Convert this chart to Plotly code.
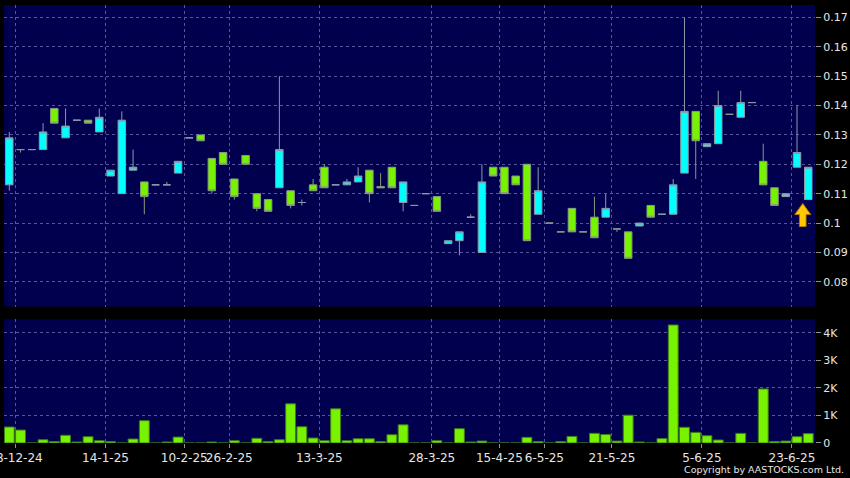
import plotly.graph_objects as go

# ---- data ----
opens = [0.113, 0.125, 0.125, 0.125, 0.139, 0.129, 0.135, 0.135, 0.131, 0.116,
         0.110, 0.118, 0.114, 0.113, 0.113, 0.117, 0.129, 0.130, 0.122, 0.124,
         0.115, 0.123, 0.110, 0.108, 0.112, 0.111, 0.107, 0.113, 0.119, 0.113,
         0.113, 0.114, 0.118, 0.1124, 0.119, 0.107, 0.106, 0.110, 0.109, 0.093,
         0.094, 0.102, 0.090, 0.119, 0.119, 0.116, 0.120, 0.103, 0.100, 0.097,
         0.105, 0.097, 0.102, 0.102, 0.098, 0.097, 0.099, 0.106, 0.103, 0.103,
         0.117, 0.138, 0.126, 0.127, 0.137, 0.136, 0.141, 0.121, 0.112, 0.109,
         0.119, 0.108]
closes = [0.129, 0.125, 0.125, 0.131, 0.134, 0.133, 0.135, 0.134, 0.136, 0.118,
          0.135, 0.119, 0.109, 0.113, 0.113, 0.121, 0.129, 0.128, 0.111, 0.120,
          0.109, 0.120, 0.105, 0.104, 0.125, 0.106, 0.107, 0.111, 0.112, 0.113,
          0.114, 0.116, 0.110, 0.1120, 0.112, 0.114, 0.106, 0.110, 0.104, 0.094,
          0.097, 0.102, 0.114, 0.116, 0.110, 0.113, 0.094, 0.111, 0.100, 0.097,
          0.097, 0.097, 0.095, 0.105, 0.098, 0.088, 0.100, 0.102, 0.103, 0.113,
          0.138, 0.128, 0.127, 0.140, 0.137, 0.141, 0.141, 0.113, 0.106, 0.110,
          0.124, 0.119]
highs = [0.131, 0.125, 0.125, 0.134, 0.139, 0.139, 0.135, 0.135, 0.139, 0.118,
         0.138, 0.125, 0.114, 0.113, 0.114, 0.121, 0.129, 0.130, 0.122, 0.124,
         0.115, 0.123, 0.110, 0.108, 0.150, 0.111, 0.108, 0.115, 0.120, 0.113,
         0.115, 0.119, 0.118, 0.117, 0.119, 0.114, 0.106, 0.110, 0.109, 0.094,
         0.097, 0.103, 0.120, 0.119, 0.119, 0.116, 0.120, 0.119, 0.100, 0.097,
         0.105, 0.097, 0.109, 0.110, 0.098, 0.097, 0.100, 0.106, 0.103, 0.115,
         0.170, 0.138, 0.127, 0.145, 0.137, 0.145, 0.141, 0.127, 0.112, 0.110,
         0.140, 0.119]
lows = [0.111, 0.124, 0.125, 0.125, 0.134, 0.129, 0.135, 0.134, 0.131, 0.116,
        0.110, 0.118, 0.103, 0.113, 0.113, 0.117, 0.129, 0.128, 0.110, 0.120,
        0.108, 0.120, 0.104, 0.104, 0.112, 0.105, 0.106, 0.111, 0.112, 0.113,
        0.113, 0.114, 0.107, 0.112, 0.112, 0.104, 0.106, 0.110, 0.104, 0.093,
        0.089, 0.102, 0.090, 0.116, 0.110, 0.113, 0.094, 0.103, 0.100, 0.097,
        0.097, 0.097, 0.095, 0.102, 0.097, 0.088, 0.099, 0.102, 0.103, 0.103,
        0.117, 0.115, 0.126, 0.127, 0.137, 0.136, 0.141, 0.113, 0.106, 0.109,
        0.119, 0.108]
volumes = [580, 470, 0, 120, 50, 280, 35, 230, 85, 50,
           0, 145, 810, 0, 35, 215, 0, 0, 35, 0,
           85, 0, 170, 50, 120, 1420, 590, 180, 85, 1240,
           85, 155, 155, 50, 300, 660, 0, 0, 85, 0,
           520, 35, 70, 0, 0, 0, 205, 50, 0, 50,
           240, 0, 350, 310, 70, 1010, 35, 0, 160, 4280,
           570, 385, 265, 110, 0, 350, 0, 1960, 50, 70,
           230, 340]

x_label_index = [0, 8, 15, 19, 27, 37, 43, 47, 53, 61, 69]
x_labels = ["18-12-24", "14-1-25", "10-2-25", "26-2-25", "13-3-25", "28-3-25",
            "15-4-25", "6-5-25", "21-5-25", "5-6-25", "23-6-25"]
price_ticks = [0.08, 0.09, 0.10, 0.11, 0.12, 0.13, 0.14, 0.15, 0.16, 0.17]
price_tick_text = ["0.08", "0.09", "0.1", "0.11", "0.12", "0.13", "0.14", "0.15", "0.16", "0.17"]
vol_ticks = [0, 1000, 2000, 3000, 4000]
vol_tick_text = ["0", "1K", "2K", "3K", "4K"]

n = len(opens)
idx = list(range(n))
tick_pos = [i + 0.55 for i in x_label_index]

BG = "#00004E"
GRID = "#55559A"
TXT = "#E6E6E6"
CYAN = "#00FFFF"
GREEN = "#77F200"
FONT = "DejaVu Sans"

fig = go.Figure()
fig.add_trace(go.Candlestick(
    x=idx, open=opens, high=highs, low=lows, close=closes,
    increasing=dict(fillcolor=CYAN, line=dict(color="#8C9AA8", width=1)),
    decreasing=dict(fillcolor=GREEN, line=dict(color="#8A9A80", width=1)),
    whiskerwidth=0, xaxis="x", yaxis="y", hoverinfo="skip", showlegend=False))
fig.add_trace(go.Bar(
    x=idx, y=volumes, marker=dict(color=GREEN, line=dict(color="#3C7A18", width=1)),
    xaxis="x2", yaxis="y2", hoverinfo="skip", showlegend=False))

# arrow marker under the last candle (pixel-sized, anchored to the data point)
fig.add_shape(type="path", xref="x", yref="y", xsizemode="pixel", ysizemode="pixel",
              xanchor=idx[-1], yanchor=lows[-1],
              path="M -5.5 -4 L 2.5 -15 L -2.2 -15 L -2.2 -27 L -8.8 -27 L -8.8 -15 L -13.5 -15 Z",
              fillcolor="#FFC800", line=dict(color="#B07800", width=1))

xr = [-0.47, n - 0.4]
axis_common = dict(showline=False, zeroline=False, gridcolor=GRID, griddash="3px,3px",
                   gridwidth=1, automargin=False)
fig.update_layout(
    width=850, height=478,
    paper_bgcolor="black", plot_bgcolor=BG,
    margin=dict(l=4, r=35, t=5, b=35, autoexpand=False),
    boxgap=0.05, bargap=0.12,
    font=dict(family=FONT, color=TXT),
    xaxis=dict(domain=[0, 1], range=xr, anchor="y", tickmode="array", tickvals=tick_pos,
               showticklabels=False, ticks="", rangeslider=dict(visible=False), **axis_common),
    yaxis=dict(domain=[0.3116, 1], range=[0.0716, 0.1742], side="right", anchor="x",
               tickmode="array", tickvals=price_ticks, ticktext=price_tick_text,
               ticks="outside", ticklen=5, tickcolor="#909090",
               tickfont=dict(size=11, color=TXT, family=FONT), **axis_common),
    xaxis2=dict(domain=[0, 1], range=xr, anchor="y2", tickmode="array", tickvals=tick_pos,
                ticktext=x_labels, tickangle=0, ticks="outside", ticklen=4, tickcolor="#909090",
                ticklabeloverflow="allow", tickfont=dict(size=12, color=TXT, family=FONT),
                **axis_common),
    yaxis2=dict(domain=[0, 0.2824], range=[0, 4485], side="right", anchor="x2",
                tickmode="array", tickvals=vol_ticks, ticktext=vol_tick_text,
                ticks="outside", ticklen=5, tickcolor="#909090",
                tickfont=dict(size=11, color=TXT, family=FONT), **axis_common),
    annotations=[dict(text="Copyright by AASTOCKS.com Ltd.", xref="paper", yref="paper",
                      x=1.0382, y=-0.0616, xanchor="right", yanchor="middle", showarrow=False,
                      font=dict(size=9.5, color=TXT, family=FONT))],
)

fig.write_html("out.html", config={"displayModeBar": False},
               post_script="document.body.style.margin='0';document.body.style.background='black';")
